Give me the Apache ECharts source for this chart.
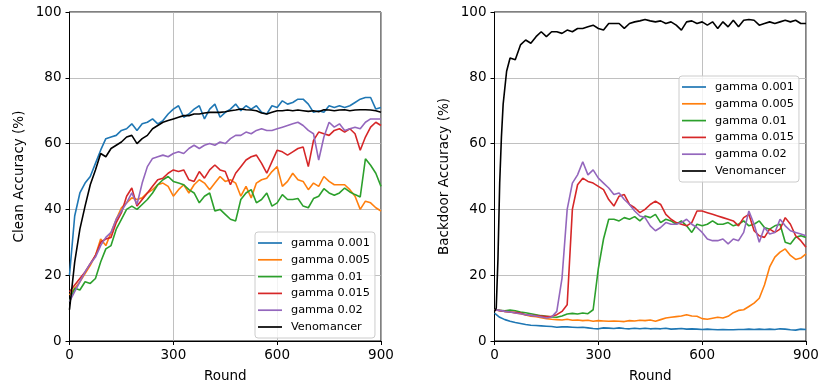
<!DOCTYPE html>
<html>
<head>
<meta charset="utf-8">
<script src="https://cdn.jsdelivr.net/npm/echarts@6/dist/echarts.min.js"></script>
<style>html,body{margin:0;padding:0;background:#fff;}#c{width:822px;height:388px;}</style>
</head>
<body>
<div id="c"></div>
<script>
const rounds = [0,15,30,45,60,75,90,105,120,135,150,165,180,195,210,225,240,255,270,285,300,315,330,345,360,375,390,405,420,435,450,465,480,495,510,525,540,555,570,585,600,615,630,645,660,675,690,705,720,735,750,765,780,795,810,825,840,855,870,885,900];
const roundsVenoB = [0,5,10,15,20,25,30,35,45,60,75,90,105,120,135,150,165,180,195,210,225,240,255,270,285,300,315,330,345,360,375,390,405,420,435,450,465,480,495,510,525,540,555,570,585,600,615,630,645,660,675,690,705,720,735,750,765,780,795,810,825,840,855,870,885,900];
const seriesNames = ['gamma 0.001','gamma 0.005','gamma 0.01','gamma 0.015','gamma 0.02','Venomancer'];
const xTicks = [0,300,600,900];
const yTicks = [0,20,40,60,80,100];

// Clean accuracy (left)
const cleanG001 = [20,38,45,48,50,54,58,61.5,62,62.5,64,64.5,66,64,66,66.5,67.5,66,67,69,70.5,71.5,68,69,70.5,71.5,67.5,70.5,72,68,69.5,70.5,72,70,71.5,70.5,71.5,69.5,69,71.5,71,73,72,72.5,73.5,73.5,72,69.5,70,69.5,71.5,71,71.5,71,71.5,72.5,73.5,74,74,70.5,71];
const cleanG005 = [14,16,18,20.5,23,26,31,29,33,37,40.5,42,43.5,43,43.5,45,46,47.5,48,47,44,46,47.5,45,47.5,49,48,46,48,50,48.5,49,48,44,47,43.5,48,49,49.5,51.5,53,47,48.5,51,49,48.5,46,48,47,50,48.5,47.5,47.5,47.5,46,44,40,42.5,42,40.5,39.5];
const cleanG01 = [12,16,15.5,18,17.5,19,24,28,29,34,37,40,41,40,41.5,43,45,47.5,49,50,48.5,48,47.5,46,45,42,44,45,39.5,40,38.5,37,36.5,43,45,46,42,43,45,41,42,44.5,43,43,43.3,41,40.5,43.3,44,46.3,45,44.3,45,46.5,45.3,44.5,43.8,55.4,53.4,51,47];
const cleanG015 = [15,17,19,21,23.5,26,30,31,31.5,36,39,44,46.5,41,43,45,47,49,49.5,51,52,51.5,52,49,48.5,51.5,49.5,52,53.5,52,51.5,47.5,51,53,55,56,56.5,54,51,54.5,58,57.5,56.5,57.5,58.5,59,53,61,63.5,63,62.5,64,64.5,63.5,64.5,63,58,62,65,66.5,65.5];
const cleanG02 = [12,15,18,21,23.5,25.5,29,31.5,33,37,39.5,42,45,41.5,48,53,55.5,56,56.5,56,57,57.5,57,58.5,59.5,58.5,59.5,60,59.5,60.5,60,61.5,62.5,62.5,63.5,63,64,64.5,64,64,64.5,65,65.5,66,66.5,65.5,64,63,55,62,66.5,65,66,64,64.5,65,64.5,66.5,67.5,67.5,67.5];
const cleanVeno = [9.5,24,34,41,47.5,52,57,56,58.5,59.5,60.5,62,62.5,60,61.5,62.5,64.5,65.5,66.5,67,67.5,68,68.5,68.5,69,69,69.3,69.5,69.5,69.5,69.7,70,70.2,70.5,70.3,70.2,70,69.3,69,69.5,70,70,70.2,70,70.2,70,69.8,70,69.7,70.3,70.2,70,70.2,70.3,70,70.2,70.3,70.3,70.2,70,69.5];

// Backdoor accuracy (right)
const bdG001 = [8.5,7.2,6.5,6.0,5.6,5.3,5.0,4.8,4.7,4.6,4.5,4.4,4.2,4.3,4.3,4.2,4.1,4.2,4.0,3.8,3.7,4.0,3.9,3.8,4.0,3.8,3.7,3.9,3.7,3.9,3.7,3.8,3.7,3.9,3.6,3.7,3.8,3.6,3.7,3.6,3.5,3.6,3.5,3.4,3.5,3.4,3.4,3.5,3.5,3.6,3.5,3.6,3.5,3.6,3.5,3.7,3.6,3.4,3.3,3.6,3.5];
const bdG005 = [9.5,9.3,9.0,8.8,8.5,8.3,7.9,7.5,7.4,7.1,6.8,6.6,6.5,6.4,6.6,6.3,6.4,6.2,6.3,6.0,6.2,6.1,6.0,6.1,6.0,5.9,6.2,6.1,6.3,6.2,6.4,6.0,6.5,7.0,7.2,7.4,7.6,8.0,7.6,7.5,6.8,6.6,6.9,7.2,7.0,7.5,8.6,9.3,9.5,10.5,11.5,13,17,22.5,25.5,27,28,26,24.8,25.2,26.5];
const bdG01 = [9.5,9.3,9.2,9.4,9.2,8.8,8.6,8.3,8.0,7.7,7.5,7.3,7.2,7.6,8.2,8.4,8.2,8.5,8.3,9.5,22,31,37,37,36.5,37.5,37,37.8,36.5,38,37.5,38.5,36,37,36.5,35.5,36.5,35,33,35.5,35,35.5,36.5,35.5,35.5,36,35,35.5,36.5,35,35.5,36.5,34.5,34,35,35.5,30,29.5,31.5,32,31.5];
const bdG015 = [9.5,9.2,9.0,8.8,8.7,8.5,8.0,7.8,7.7,7.6,7.4,7.5,8.0,9,11,40,47.5,49.5,48.5,48,47,46,43,41,44,44.5,41.5,40.5,39,40,41.5,42.5,41.5,38.5,37,36,35.5,35,36,39.5,39.5,39,38.5,38,37.5,37,36.5,35,37.5,38.5,33.5,32,31.5,34,33,34,37.5,35.5,32,30.5,28.5];
const bdG02 = [9.5,9.3,9.0,8.8,8.5,8.3,8.0,7.8,7.6,7.3,7.0,7.3,9,19,40,48,50.5,54.5,50.5,52,49.5,48,46.5,44.5,45,43,41.5,39.5,38,37.5,35,33.5,34.5,36,35.5,35.5,36,37,35.5,34.5,33,31,30.5,30.5,31,29.5,31,30.5,33,39.5,35.5,30,34.5,32.5,33,37,35,33.5,33,32.5,32];
const bdVeno = [9,10,25,48,62,72,77,82,86,85.5,90,91.5,90.5,92.5,94,92.5,94,94,93.5,94.5,94,95,95,95.5,96,95,94.5,96.5,96.5,96.5,95,96.5,97,97.3,97.7,97.3,97,97.3,96.5,97,96,94.5,97,97.3,96.5,97,96,97,95,97,95.5,97.5,95.5,97.5,97.7,97.5,96,96.5,97,96.5,97,97.5,97,97.5,96.5,96.5];

const colors = ['#1f77b4','#ff7f0e','#2ca02c','#d62728','#9467bd','#000000'];
const FONT = 'DejaVu Sans';

function mk(name, xs, vals, idx, color) {
  return {
    type: 'line', name: name, xAxisIndex: idx, yAxisIndex: idx,
    data: xs.map((r, i) => [r, vals[i]]),
    symbol: 'none', showSymbol: false,
    lineStyle: { width: 1.6, color: color },
    itemStyle: { color: color },
    emphasis: { disabled: true },
    animation: false
  };
}

function xAx(idx) {
  return {
    type: 'value', gridIndex: idx, min: 0, max: 900, interval: 300,
    name: 'Round', nameLocation: 'middle', nameGap: 28,
    nameTextStyle: { fontFamily: FONT, fontSize: 13.5, color: '#000' },
    axisLine: { show: true, onZero: false, lineStyle: { color: '#000', width: 1 } },
    axisTick: { show: true, inside: false, length: 4, lineStyle: { color: '#000', width: 1 } },
    axisLabel: { fontFamily: FONT, fontSize: 13.5, color: '#000', margin: 7,
      formatter: v => xTicks.includes(v) ? String(v) : '' },
    splitLine: { show: true, lineStyle: { color: '#b0b0b0', width: 0.8 } }
  };
}
function yAx(idx, name, gap) {
  return {
    type: 'value', gridIndex: idx, min: 0, max: 100, interval: 20,
    name: name, nameLocation: 'middle', nameGap: gap, nameRotate: 90,
    nameTextStyle: { fontFamily: FONT, fontSize: 13.5, color: '#000' },
    axisLine: { show: true, lineStyle: { color: '#000', width: 1 } },
    axisTick: { show: true, inside: false, length: 4, lineStyle: { color: '#000', width: 1 } },
    axisLabel: { fontFamily: FONT, fontSize: 13.5, color: '#000', margin: 8,
      formatter: v => yTicks.includes(v) ? String(v) : '' },
    splitLine: { show: true, lineStyle: { color: '#b0b0b0', width: 0.8 } }
  };
}
function leg(left, top) {
  return {
    orient: 'vertical', left: left, top: top,
    data: seriesNames.map(n => ({ name: n, icon: 'rect' })),
    itemWidth: 24, itemHeight: 1.7, itemGap: 2.8,
    padding: [4, 5, 4, 3],
    backgroundColor: 'rgba(255,255,255,0.8)', borderColor: '#cccccc', borderWidth: 1, borderRadius: 3,
    textStyle: { fontFamily: FONT, fontSize: 11.3, lineHeight: 14, color: '#000', padding: [0, 0, 0, 4] },
    selectedMode: false
  };
}

const chart = echarts.init(document.getElementById('c'), null, { renderer: 'canvas' });
const cleanVals = [cleanG001, cleanG005, cleanG01, cleanG015, cleanG02, cleanVeno];
const bdVals = [bdG001, bdG005, bdG01, bdG015, bdG02];
const series = [];
seriesNames.forEach((n, i) => series.push(mk(n, rounds, cleanVals[i], 0, colors[i])));
bdVals.forEach((v, i) => series.push(mk(seriesNames[i], rounds, v, 1, colors[i])));
series.push(mk(seriesNames[5], roundsVenoB, bdVeno, 1, colors[5]));

chart.setOption({
  animation: false,
  backgroundColor: '#ffffff',
  grid: [
    { left: 69.5, right: 441, top: 12, bottom: 45, show: true, borderColor: '#000', borderWidth: 1, backgroundColor: 'transparent' },
    { left: 494.5, right: 16, top: 12, bottom: 45, show: true, borderColor: '#000', borderWidth: 1, backgroundColor: 'transparent' }
  ],
  xAxis: [xAx(0), xAx(1)],
  yAxis: [yAx(0, 'Clean Accuracy (%)', 43), yAx(1, 'Backdoor Accuracy (%)', 43)],
  legend: [leg(255, 232), leg(679, 76)],
  series: series
});
</script>
</body>
</html>
